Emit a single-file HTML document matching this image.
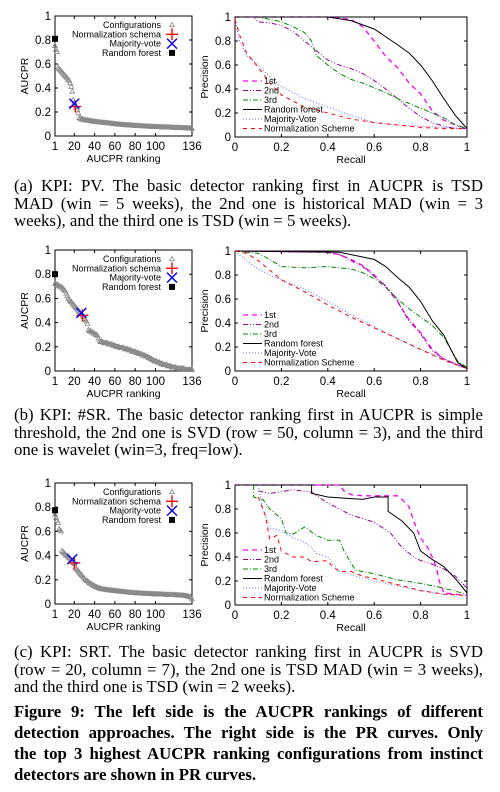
<!DOCTYPE html>
<html><head><meta charset="utf-8">
<style>
body{margin:0;background:#fff;width:500px;height:792px;overflow:hidden;position:relative;font-family:"Liberation Serif",serif;}
svg{position:absolute;left:0;top:0}
.cap{position:absolute;left:14px;width:469px;font-size:16.8px;line-height:17.5px;color:#000}
.fig{position:absolute;left:14px;width:469px;font-size:16.8px;line-height:21px;font-weight:bold}
.l{display:block;text-align:justify;text-align-last:justify;white-space:nowrap}
.e{display:block;white-space:nowrap}
</style></head>
<body>
<svg id="chart" width="500" height="792"></svg>
<div class="cap" style="top:177px"><span class="l">(a) KPI: PV. The basic detector ranking first in AUCPR is TSD</span><span class="l">MAD (win = 5 weeks), the 2nd one is historical MAD (win = 3</span><span class="e">weeks), and the third one is TSD (win = 5 weeks).</span></div>
<div class="cap" style="top:406px"><span class="l">(b) KPI: #SR. The basic detector ranking first in AUCPR is simple</span><span class="l">threshold, the 2nd one is SVD (row = 50, column = 3), and the third</span><span class="e">one is wavelet (win=3, freq=low).</span></div>
<div class="cap" style="top:643px"><span class="l">(c) KPI: SRT. The basic detector ranking first in AUCPR is SVD</span><span class="l">(row = 20, column = 7), the 2nd one is TSD MAD (win = 3 weeks),</span><span class="e">and the third one is TSD (win = 2 weeks).</span></div>
<div class="fig" style="top:701px"><span class="l">Figure 9: The left side is the AUCPR rankings of different</span><span class="l">detection approaches. The right side is the PR curves. Only</span><span class="l">the top 3 highest AUCPR ranking configurations from instinct</span><span class="e">detectors are shown in PR curves.</span></div>
<script>
const aucprA=[.75,.72,.70,.57,.56,.55,.54,.53,.52,.51,.50,.49,.48,.47,.46,.44,.41,.37,.30,.28,.26,.24,.22,.19,.15,.145,.14,.14,.135,.135,.13,.13,.13,.128,.126,.125,.124,.122,.12,.12,.118,.117,.116,.115,.114,.113,.112,.111,.11,.11,.109,.108,.107,.106,.105,.104,.103,.102,.101,.10,.099,.098,.097,.096,.095,.095,.094,.093,.092,.092,.091,.09,.09,.089,.088,.088,.087,.086,.086,.085,.085,.084,.084,.083,.083,.082,.082,.081,.081,.08,.08,.079,.079,.078,.078,.078,.077,.077,.076,.076,.076,.075,.075,.074,.074,.074,.073,.073,.073,.072,.072,.072,.071,.071,.071,.07,.07,.07,.069,.069,.069,.068,.068,.068,.067,.067,.067,.066,.066,.066,.065,.065,.064,.064,.063,.06];
const aucprB=[.72,.72,.71,.71,.70,.70,.69,.69,.68,.67,.66,.64,.62,.60,.59,.58,.57,.56,.55,.54,.53,.52,.51,.50,.49,.48,.47,.46,.45,.43,.42,.41,.39,.34,.33,.33,.32,.32,.31,.31,.30,.30,.29,.27,.25,.24,.24,.24,.23,.23,.23,.23,.23,.22,.22,.22,.22,.21,.21,.21,.20,.20,.20,.20,.19,.19,.19,.19,.19,.18,.18,.18,.18,.17,.17,.17,.16,.16,.16,.16,.15,.15,.15,.14,.14,.14,.13,.13,.13,.12,.12,.12,.11,.11,.10,.10,.09,.09,.08,.08,.08,.07,.07,.07,.06,.06,.06,.05,.05,.05,.05,.04,.04,.04,.04,.03,.03,.03,.03,.03,.02,.02,.02,.02,.02,.02,.02,.02,.01,.01,.01,.01,.01,.01,.01,.01];
const aucprC=[.74,.71,.69,.67,.62,.61,.60,.44,.43,.42,.41,.40,.40,.39,.38,.37,.36,.35,.34,.33,.30,.29,.28,.27,.26,.25,.24,.23,.22,.21,.20,.19,.19,.18,.17,.17,.16,.16,.15,.15,.14,.14,.135,.13,.13,.125,.125,.12,.12,.12,.118,.116,.115,.114,.113,.112,.111,.11,.11,.108,.107,.106,.105,.104,.103,.102,.101,.10,.10,.099,.098,.097,.096,.095,.094,.093,.092,.092,.091,.09,.09,.089,.089,.088,.088,.087,.087,.086,.086,.085,.085,.084,.084,.083,.083,.082,.082,.082,.081,.081,.08,.08,.08,.079,.079,.078,.078,.078,.077,.077,.076,.076,.076,.075,.075,.075,.074,.074,.074,.073,.073,.072,.072,.071,.071,.07,.07,.069,.068,.067,.065,.063,.06,.058,.055,.04];
const rfA=[1,.81], normA=[21,.245], mvA=[20,.27];
const rfB=[1,.80], normB=[28,.46], mvB=[27,.48];
const rfC=[1,.775], normC=[20,.34], mvC=[18,.37];
const xTicksRank=[1,20,40,60,80,100,136];
const yTicks=[0,0.2,0.4,0.6,0.8,1];
const xTicksRecall=[0,0.2,0.4,0.6,0.8,1];
const a1R=[0,.4,.5,.55,.6,.65,.7,.75,.8,.85,.9,.95,1], a1P=[1,1,.98,.92,.8,.67,.58,.45,.36,.22,.14,.1,.07];
const a2R=[0,.08,.1,.15,.2,.25,.3,.35,.4,.45,.5,.55,.6,.65,.7,.75,.8,.85,.9,.95,1], a2P=[1,1,.96,.95,.93,.88,.8,.72,.64,.6,.57,.53,.47,.4,.32,.24,.17,.12,.09,.07,.07];
const a3R=[0,.1,.2,.25,.3,.33,.35,.4,.45,.5,.55,.6,.65,.7,.75,.8,.85,.9,.95,1], a3P=[1,1,.96,.92,.87,.8,.68,.6,.53,.48,.45,.41,.37,.32,.28,.24,.2,.16,.1,.07];
const aRfR=[0,.4,.5,.6,.7,.75,.8,.85,.9,.95,1], aRfP=[1,1,.97,.9,.77,.7,.6,.47,.32,.18,.07];
const aMvR=[0,.02,.05,.1,.15,.2,.3,.4,.5,.6,.7,.8,.9,1], aMvP=[.98,.8,.68,.6,.5,.42,.32,.25,.18,.12,.1,.09,.08,.07];
const aNmR=[0,.02,.05,.1,.15,.2,.3,.4,.5,.6,.7,.8,.9,1], aNmP=[.98,.85,.7,.58,.45,.35,.25,.2,.15,.12,.1,.08,.07,.07];
const b1R=[0,.4,.45,.5,.55,.6,.65,.7,.72,.75,.8,.85,.9,.95,1], b1P=[1,.99,.97,.93,.88,.8,.7,.58,.52,.43,.32,.18,.1,.06,.02];
const b2R=[0,.4,.45,.5,.55,.6,.65,.7,.72,.75,.8,.85,.9,.95,1], b2P=[1,.99,.97,.92,.87,.79,.71,.59,.51,.42,.31,.17,.1,.06,.02];
const b3R=[0,.1,.15,.2,.3,.4,.5,.55,.6,.65,.7,.75,.8,.85,.9,.93,.96,1], b3P=[1,.98,.93,.87,.86,.87,.85,.82,.77,.7,.6,.52,.45,.38,.28,.18,.08,.03];
const bRfR=[0,.45,.5,.6,.65,.7,.75,.8,.85,.9,.93,.96,1], bRfP=[1,.99,.97,.93,.87,.78,.7,.58,.42,.3,.18,.07,.02];
const bMvR=[0,.05,.1,.15,.2,.3,.4,.5,.6,.7,.8,.9,1], bMvP=[1,.92,.85,.8,.76,.68,.58,.47,.37,.27,.18,.1,.02];
const bNmR=[0,.05,.1,.15,.2,.3,.4,.5,.6,.7,.8,.9,1], bNmP=[1,.98,.92,.84,.76,.66,.55,.45,.36,.27,.18,.09,.02];
const c1R=[0,.45,.47,.5,.55,.65,.7,.72,.75,.77,.8,.83,.85,.87,.88,.9,.95,1], c1P=[1,1,.95,.92,.91,.91,.91,.88,.82,.7,.56,.48,.4,.3,.2,.1,.09,.08];
const c2R=[.1,.15,.25,.33,.4,.45,.5,.6,.67,.72,.77,.8,.85,.9,.95,1], c2P=[.95,.93,.96,.94,.85,.8,.75,.69,.6,.48,.4,.37,.34,.3,.24,.14];
const c3R=[.08,.08,.12,.15,.2,.22,.25,.3,.35,.4,.45,.47,.5,.52,.6,.7,.8,.9,1], c3P=[1,.9,.88,.8,.72,.6,.59,.65,.58,.54,.54,.45,.35,.29,.26,.21,.18,.14,.09];
const cRfR=[0,.33,.33,.4,.55,.6,.66,.66,.72,.77,.8,.85,.9,.95,1], cRfP=[1,1,.93,.9,.88,.9,.9,.78,.7,.6,.45,.38,.32,.22,.1];
const cMvR=[.1,.12,.15,.2,.25,.3,.33,.35,.4,.45,.5,.6,.7,.8,.9,1], cMvP=[1,.8,.64,.62,.56,.52,.48,.43,.4,.28,.25,.2,.16,.12,.09,.08];
const cNmR=[.1,.13,.15,.18,.2,.25,.3,.33,.4,.42,.45,.5,.55,.6,.7,.8,.9,1], cNmP=[.9,.75,.55,.58,.45,.4,.4,.36,.37,.32,.28,.28,.24,.22,.17,.12,.09,.08];
const legendNames=["1st","2nd","3rd","Random forest","Majority-Vote","Normalization Scheme"];

const NS="http://www.w3.org/2000/svg";
const svg=document.getElementById('chart');
function mk(tag,attrs,parent){const e=document.createElementNS(NS,tag);for(const k in attrs)e.setAttribute(k,attrs[k]);(parent||svg).appendChild(e);return e;}
function txt(x,y,s,size,anchor,parent,rot){const t=mk('text',{x:x,y:y,'font-size':size,'font-family':'Liberation Sans, sans-serif','text-anchor':anchor||'middle',fill:'#000'},parent);if(rot)t.setAttribute('transform',`rotate(-90 ${x} ${y})`);t.textContent=s;return t;}

function axes(g,x0,x1,y0,y1,xt,xfmt,xs,ylabel,xlabel){
  const ys=v=>y1-(y1-y0)*v;
  mk('rect',{x:x0,y:y0,width:x1-x0,height:y1-y0,fill:'none',stroke:'#000','stroke-width':1},g);
  yTicks.forEach(v=>{const y=ys(v);mk('line',{x1:x0,y1:y,x2:x0+3,y2:y,stroke:'#000'},g);mk('line',{x1:x1,y1:y,x2:x1-3,y2:y,stroke:'#000'},g);txt(x0-4,y+4,String(v),11.5,'end',g);});
  xt.forEach(v=>{const x=xs(v);mk('line',{x1:x,y1:y1,x2:x,y2:y1-3,stroke:'#000'},g);mk('line',{x1:x,y1:y0,x2:x,y2:y0+3,stroke:'#000'},g);txt(x,y1+14,xfmt(v),11.5,'middle',g);});
  const yl=txt(x0-27,(y0+y1)/2,ylabel,10.5,'middle',g,true);
  
  
  const xl=txt((x0+x1)/2,y1+26,xlabel,10.5,'middle',g);
  
  
  return ys;
}
function tri(g,x,y){mk('path',{d:`M${x} ${y-2.6}L${x+2.4} ${y+1.6}L${x-2.4} ${y+1.6}Z`,fill:'none',stroke:'#888','stroke-width':0.8},g);}
function plus(g,x,y){mk('path',{d:`M${x-6} ${y}H${x+6}M${x} ${y-6}V${y+6}`,stroke:'#f00','stroke-width':1.4},g);}
function cross(g,x,y){mk('path',{d:`M${x-5} ${y-5}L${x+5} ${y+5}M${x-5} ${y+5}L${x+5} ${y-5}`,stroke:'#00f','stroke-width':1.4},g);}
function sq(g,x,y){mk('rect',{x:x-3,y:y-3,width:6,height:6,fill:'#000'},g);}

function rankChart(name,y0,y1,data,rf,nm,mv){
  const g=mk('g',{});
  
  
  const x0=55,x1=192;
  const xs=r=>x0+(r-1)/135*(x1-x0);
  const ys=axes(g,x0,x1,y0,y1,xTicksRank,v=>String(v),xs,'AUCPR','AUCPR ranking');
  data.forEach((v,i)=>{tri(g,xs(i+1),ys(v));});
  plus(g,xs(nm[0]),ys(nm[1]));cross(g,xs(mv[0]),ys(mv[1]));sq(g,xs(rf[0]),ys(rf[1]));
  const lg=mk('g',{},g);
  
  
  const names=['Configurations','Normalization schema','Majority-vote','Random forest'];
  const fns=[tri,plus,cross,sq];
  names.forEach((n,i)=>{const y=y0+9+i*9.3;txt(161,y+3,n,9,'end',lg);fns[i](lg,172,y);});
}
const styles=[
 {c:'#f0f',d:'5,4',w:1.3},
 {c:'#909',d:'5,2,1,2,1,2',w:1},
 {c:'#080',d:'5,2,1,2',w:1},
 {c:'#000',d:'',w:1},
 {c:'#66f',d:'1,2',w:1},
 {c:'#f00',d:'4,4',w:1}];
function prChart(name,y0,y1,series,legTop){
  const g=mk('g',{});
  
  
  const x0=235,x1=467;
  const xs=v=>x0+(x1-x0)*v;
  const ys=axes(g,x0,x1,y0,y1,xTicksRecall,v=>String(v),xs,'Precision','Recall');
  series.forEach((s,i)=>{
    const p=mk('polyline',{points:s[0].map((r,j)=>xs(r).toFixed(1)+','+ys(s[1][j]).toFixed(1)).join(' '),fill:'none',stroke:styles[i].c,'stroke-width':styles[i].w,'stroke-dasharray':styles[i].d},g);
    
    
  });
  const lg=mk('g',{},g);
  
  
  legendNames.forEach((n,i)=>{const y=legTop+i*9.5;mk('line',{x1:243,y1:y,x2:262,y2:y,stroke:styles[i].c,'stroke-width':styles[i].w,'stroke-dasharray':styles[i].d},lg);txt(264,y+3,n,9,'start',lg);});
}
rankChart('aucpr-ranking-pv',16,136,aucprA,rfA,normA,mvA);
prChart('pr-curve-pv',17,137,[[a1R,a1P],[a2R,a2P],[a3R,a3P],[aRfR,aRfP],[aMvR,aMvP],[aNmR,aNmP]],81);
rankChart('aucpr-ranking-sr',250,371,aucprB,rfB,normB,mvB);
prChart('pr-curve-sr',251,371,[[b1R,b1P],[b2R,b2P],[b3R,b3P],[bRfR,bRfP],[bMvR,bMvP],[bNmR,bNmP]],315);
rankChart('aucpr-ranking-srt',483,604,aucprC,rfC,normC,mvC);
prChart('pr-curve-srt',485,605,[[c1R,c1P],[c2R,c2P],[c3R,c3P],[cRfR,cRfP],[cMvR,cMvP],[cNmR,cNmP]],550);
</script>
</body></html>
